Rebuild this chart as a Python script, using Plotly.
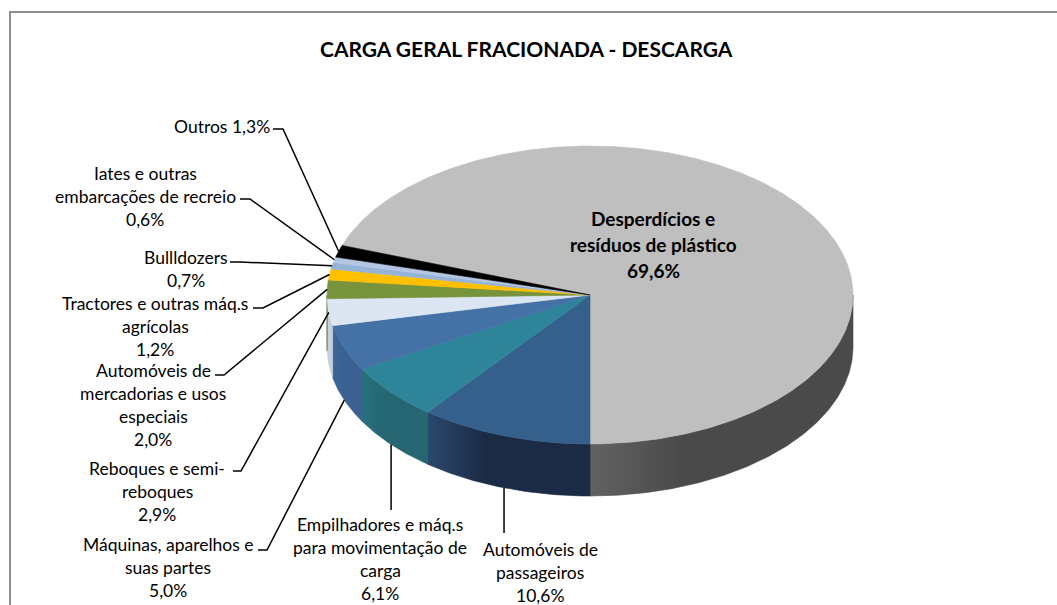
import numpy as np
import plotly.graph_objects as go

# ---------------- data ----------------
categories = [
    "Desperdícios e resíduos de plástico",
    "Automóveis de passageiros",
    "Empilhadores e máq.s para movimentação de carga",
    "Máquinas, aparelhos e suas partes",
    "Reboques e semi-reboques",
    "Automóveis de mercadorias e usos especiais",
    "Tractores e outras máq.s agrícolas",
    "Bullldozers",
    "Iates e outras embarcações de recreio",
    "Outros",
]
values = [69.6, 10.6, 6.1, 5.0, 2.9, 2.0, 1.2, 0.7, 0.6, 1.3]

# wrapped label text (as displayed)
label_lines = [
    ["Desperdícios e", "resíduos de plástico"],
    ["Automóveis de", "passageiros"],
    ["Empilhadores e máq.s", "para movimentação de", "carga"],
    ["Máquinas, aparelhos e", "suas partes"],
    ["Reboques e semi-", "reboques"],
    ["Automóveis de", "mercadorias e usos", "especiais"],
    ["Tractores e outras máq.s", "agrícolas"],
    ["Bullldozers"],
    ["Iates e outras", "embarcações de recreio"],
    ["Outros"],
]
title_text = "CARGA GERAL FRACIONADA - DESCARGA"

# ---------------- styles ----------------
top_colors = ["#BFBFBF", "#36608C", "#2E8599", "#4472A6", "#DCE6F2",
              "#77933C", "#FFC000", "#95B3D7", "#B3C6E3", "#000000"]
wall_colors = [("#626262", "#4A4A4A"), ("#2B476F", "#1C2B45"), ("#28707F", "#256672"),
               ("#3D6697", "#3A6191"), ("#C5D0DC", "#C5D0DC"), ("#5F7630", "#5F7630"),
               ("#D9A300", "#D9A300"), ("#7F98B7", "#7F98B7"), ("#9AABC4", "#9AABC4"),
               ("#000000", "#000000")]

W, H = 1057, 605
CX, CY, RX, RY, DEPTH = 590, 295, 263, 149, 52
FONT = "Lato"
LABEL_SIZE = 17.5

# label layout: (center x, first line y, line step)
label_pos = {
    0: (653, 218, 26), 1: (540, 549, 23), 2: (380, 524, 23), 3: (168, 544, 23),
    4: (157, 468, 23), 5: (153, 370, 23), 6: (155, 303, 23), 7: (186, 257, 23),
    8: (145, 173, 23), 9: (222, 126, 23),
}
# leader lines: ("v", end_y) or ("h", hook_x0, hook_x1, hook_y)
leaders = {
    1: ("v", 533), 2: ("v", 510),
    3: ("h", 258, 267, 550), 4: ("h", 233, 241, 471), 5: ("h", 215, 224, 375),
    6: ("h", 253, 263, 308), 7: ("h", 230, 240, 262), 8: ("h", 240, 250, 199),
    9: ("h", 273, 283, 129),
}


def pct(v):
    return f"{v:.1f}".replace(".", ",") + "%"


def pt(theta_deg, dy=0.0):
    t = np.radians(theta_deg)
    return CX + RX * np.sin(t), CY - RY * np.cos(t) + dy


total = sum(values)
start = 180 - 360 * values[0] / total  # first slice ends at 6 o'clock
bounds = []
a = start
for v in values:
    b = a + 360 * v / total
    bounds.append((a, b))
    a = b

fig = go.Figure()

# ---- side walls (front half only) ----
for i, (a, b) in enumerate(bounds):
    for lo, hi in [(90, 270), (450, 630), (-270, -90)]:
        s, e = max(a, lo), min(b, hi)
        if e - s <= 0.01:
            continue
        th = np.linspace(s, e, max(3, int((e - s) * 2)))
        xt, yt = pt(th)
        xb, yb = pt(th[::-1], DEPTH)
        xs = np.concatenate([xt, xb, xt[:1]])
        ys = np.concatenate([yt, yb, yt[:1]])
        c1, c2 = wall_colors[i]
        fig.add_trace(go.Scatter(
            x=xs, y=ys, mode="lines", fill="toself",
            fillcolor=c1,
            fillgradient=dict(type="horizontal", colorscale=[[0, c1], [0.35, c2], [1, c2]],
                              start=float(xs.min()), stop=float(xs.max())),
            line=dict(color=c2, width=0.6), hoverinfo="skip", showlegend=False))

# ---- top faces ----
for i, (a, b) in enumerate(bounds):
    th = np.linspace(a, b, max(3, int((b - a) * 2)))
    xa, ya = pt(th)
    xs = np.concatenate([[CX], xa, [CX]])
    ys = np.concatenate([[CY], ya, [CY]])
    fig.add_trace(go.Scatter(
        x=xs, y=ys, mode="lines", fill="toself", fillcolor=top_colors[i],
        line=dict(color=top_colors[i], width=0.6), hoverinfo="skip",
        name=categories[i], showlegend=False))

# ---- leader lines ----
for i, spec in leaders.items():
    a, b = bounds[i]
    mid = (a + b) / 2
    on_wall = np.cos(np.radians(mid)) < -0.3
    ax, ay = pt(mid, DEPTH if on_wall else 0)
    if spec[0] == "v":
        xs, ys = [ax, ax], [ay, spec[1]]
    else:
        _, hx0, hx1, hy = spec
        xs, ys = [hx0, hx1, ax], [hy, hy, ay]
    fig.add_trace(go.Scatter(x=xs, y=ys, mode="lines",
                             line=dict(color="black", width=1.5),
                             hoverinfo="skip", showlegend=False))

# ---- labels ----
annotations = []
for i, lines in enumerate(label_lines):
    lx, ly, step = label_pos[i]
    if i == 9:
        texts = [lines[0] + " " + pct(values[i])]
    else:
        texts = lines + [pct(values[i])]
    bold = i == 0
    for k, t in enumerate(texts):
        annotations.append(dict(
            x=lx, y=ly + k * step, xref="x", yref="y", text=f"<b>{t}</b>" if bold else t,
            showarrow=False, xanchor="center", yanchor="middle",
            font=dict(family=FONT, size=19 if bold else LABEL_SIZE, color="#000000")))

annotations.append(dict(x=526, y=48, xref="x", yref="y", text=f"<b>{title_text}</b>",
                        showarrow=False, xanchor="center", yanchor="middle",
                        font=dict(family=FONT, size=21, color="#000000")))

fig.update_layout(
    width=W, height=H, autosize=False,
    margin=dict(l=0, r=0, t=0, b=0),
    paper_bgcolor="white", plot_bgcolor="white",
    xaxis=dict(range=[0, W], visible=False, fixedrange=True),
    yaxis=dict(range=[H, 0], visible=False, fixedrange=True),
    annotations=annotations,
    shapes=[dict(type="rect", xref="x", yref="y", x0=10, y0=12, x1=W + 20, y1=H + 20,
                 line=dict(color="#8E8E8E", width=2), fillcolor="rgba(0,0,0,0)",
                 layer="below")],
    showlegend=False,
)

fig.write_html("out.html", config={"displayModeBar": False},
               post_script="document.body.style.margin='0px';document.body.style.overflow='hidden';")
